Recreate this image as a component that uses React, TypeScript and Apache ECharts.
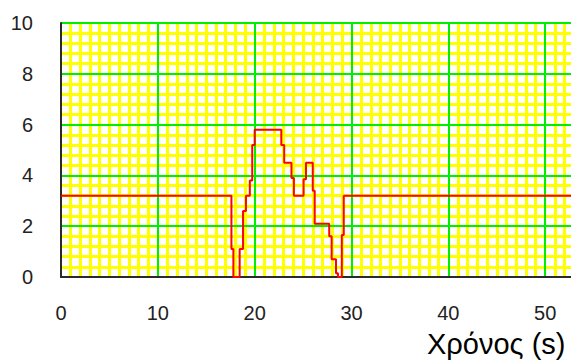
import React, { useEffect, useRef } from "react";
import * as echarts from "echarts";

// Step profile: time (s) at which the value changes, and the new value
const times = [0, 17.6, 17.8, 18.45, 18.8, 19.1, 19.5, 19.75, 20.0, 22.75, 23.05, 23.8, 24.05, 25.05, 25.3, 26.0, 26.2, 27.7, 27.95, 28.4, 28.6, 29.0, 29.2, 60];
const values = [3.2, 1.1, 0, 1.1, 2.6, 3.2, 3.8, 5.2, 5.8, 5.2, 4.5, 3.9, 3.2, 3.85, 4.5, 3.4, 2.1, 1.6, 0.7, 0.15, 0, 1.65, 3.2, 3.2];
const xTicks = [0, 10, 20, 30, 40, 50];
const yTicks = [0, 2, 4, 6, 8, 10];
const xName = "Χρόνος (s)";

export default function App() {
  const ref = useRef<HTMLDivElement>(null);
  useEffect(() => {
    if (!ref.current) return;
    const chart = echarts.init(ref.current, null, { renderer: "svg" });
    const font = "'Liberation Sans', Arial, sans-serif";
    const minorAxis = (splitNumber: number, extra: any) => ({
      type: "value",
      z: 0,
      show: true,
      axisLine: { show: false },
      axisTick: { show: false },
      axisLabel: { show: false },
      splitLine: { show: false },
      minorTick: { show: false, splitNumber },
      minorSplitLine: { show: true, lineStyle: { color: "#ffff00", width: 3 } },
      ...extra,
    });
    chart.setOption({
      animation: false,
      backgroundColor: "#ffffff",
      grid: { left: 61, top: 23, right: 0, bottom: 86, containLabel: false },
      xAxis: [
        {
          type: "value",
          z: 2,
          min: 0,
          max: 60,
          interval: 10,
          axisLine: { show: true, onZero: false, lineStyle: { color: "#2a2a2a", width: 2 } },
          axisTick: { show: false },
          axisLabel: {
            margin: 26,
            color: "#222222",
            fontSize: 20,
            fontFamily: font,
            formatter: (v: number) => (xTicks.includes(v) ? String(v) : ""),
          },
          splitLine: { show: true, showMinLine: false, lineStyle: { color: "#00ee00", width: 2 } },
        },
        minorAxis(10, { min: 0, max: 60, interval: 10, position: "top" }),
      ],
      yAxis: [
        {
          type: "value",
          z: 2,
          min: 0,
          max: 10,
          interval: 2,
          axisLine: { show: true, lineStyle: { color: "#2a2a2a", width: 2 } },
          axisTick: { show: false },
          axisLabel: {
            margin: 28,
            color: "#222222",
            fontSize: 20,
            fontFamily: font,
            formatter: (v: number) => (yTicks.includes(v) ? String(v) : ""),
          },
          splitLine: { show: true, showMinLine: false, lineStyle: { color: "#00ee00", width: 2 } },
        },
        minorAxis(5, { min: 0, max: 10, interval: 2, position: "right" }),
      ],
      graphic: [
        {
          type: "text",
          left: 427,
          top: 329,
          z: 10,
          style: { text: xName, fill: "#000000", font: `29px ${font}` },
        },
      ],
      series: [
        {
          type: "line",
          step: "end",
          xAxisIndex: 0,
          yAxisIndex: 0,
          data: times.map((t, i) => [t, values[i]]),
          showSymbol: false,
          clip: true,
          lineStyle: { color: "#ff0000", width: 2 },
          z: 5,
        },
      ],
    });
    return () => chart.dispose();
  }, []);
  return (
    <div style={{ position: "fixed", left: 0, top: 0, width: 571, height: 363, overflow: "hidden", background: "#fff" }}>
      <div ref={ref} style={{ position: "absolute", left: 0, top: 0, width: 645.4, height: 363 }} />
    </div>
  );
}
